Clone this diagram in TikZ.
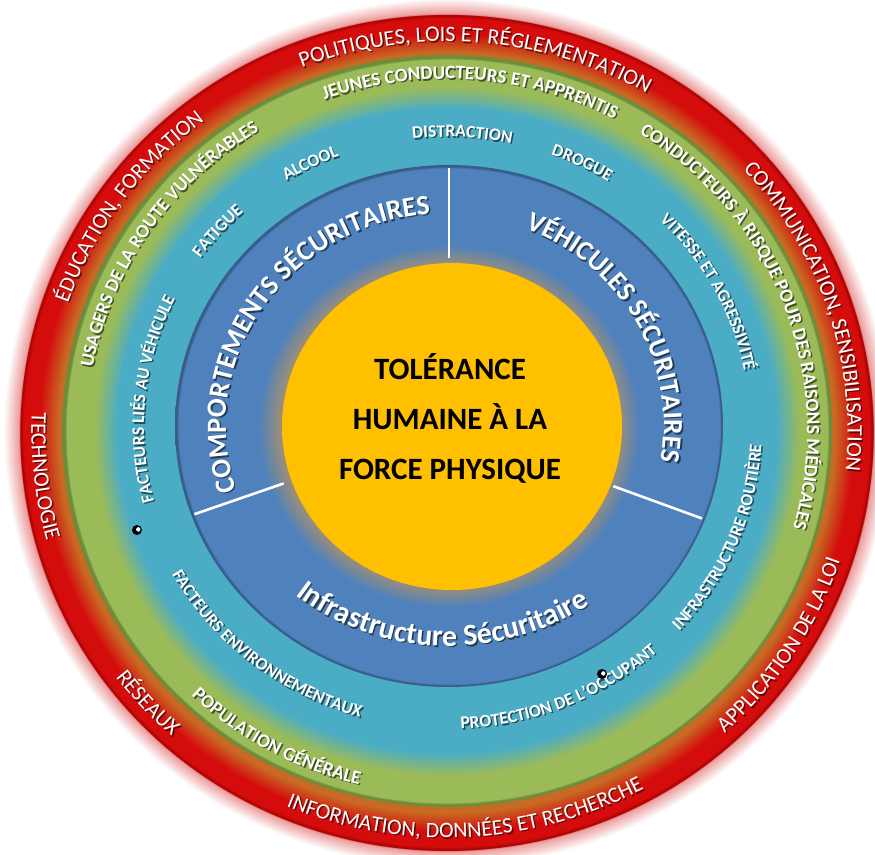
\documentclass[tikz,border=0pt]{standalone}
\usepackage{fontspec}
\setmainfont{Carlito}
\usetikzlibrary{decorations.text}
\definecolor{cRed}{HTML}{D40C0C}
\definecolor{cRedDark}{HTML}{A80000}
\definecolor{cRedIn}{HTML}{C86A24}
\definecolor{cGlow}{HTML}{EC9C9C}
\definecolor{cGreen}{HTML}{9BBB59}
\definecolor{cGreenDark}{HTML}{6E8C3A}
\definecolor{cLBlue}{HTML}{4BACC6}
\definecolor{cDBlue}{HTML}{4F81BD}
\definecolor{cDBlueDark}{HTML}{385D8A}
\definecolor{cGray}{HTML}{9C8E78}
\definecolor{cGold}{HTML}{FFC000}
\pgfdeclareradialshading{redring}{\pgfpoint{0bp}{0bp}}{color(0bp)=(cRedIn); color(21.9bp)=(cRedIn); color(23.0bp)=(cRed); color(23.85bp)=(cRed); color(24.05bp)=(cRedDark); color(24.12bp)=(cGlow); color(25bp)=(white); color(50bp)=(white)}
\pgfdeclareradialshading{greenring}{\pgfpoint{0bp}{0bp}}{color(0bp)=(cLBlue); color(21.4bp)=(cLBlue); color(22.9bp)=(cGreen); color(24.7bp)=(cGreen); color(24.8bp)=(cGreenDark); color(25bp)=(cGreenDark); color(50bp)=(cGreenDark)}
\pgfdeclareradialshading{bluering}{\pgfpoint{0bp}{0bp}}{color(0bp)=(cGray); color(15.4bp)=(cGray); color(17.4bp)=(cDBlue); color(24.7bp)=(cDBlue); color(24.82bp)=(cDBlueDark); color(25bp)=(cDBlueDark); color(50bp)=(cDBlueDark)}
% #1 cx, #2 cy, #3 rx, #4 ry, #5 start, #6 end, #7 font, #8 text
\newcommand\ringtext[8]{%
  \begin{scope}[opacity=.55,shift={(1.5,-1.5)}]
  \path[decorate,decoration={text along path,text align=center,text color=black,text={|#7|#8}}]
    ([shift={(#1,#2)}]#5:#3 and #4) arc[start angle=#5,end angle=#6,x radius=#3,y radius=#4];
  \end{scope}
  \path[decorate,decoration={text along path,text align=center,text color=white,text={|#7|#8}}]
    ([shift={(#1,#2)}]#5:#3 and #4) arc[start angle=#5,end angle=#6,x radius=#3,y radius=#4];
}
\newcommand\redf{\fontsize{22}{22}\selectfont}
\newcommand\grnf{\fontsize{19}{19}\selectfont\bfseries}
\newcommand\lbf{\fontsize{17.5}{17.5}\selectfont\bfseries}
\newcommand\dbf{\fontsize{28}{28}\selectfont\bfseries}
\newcommand\dbfv{\fontsize{27.5}{27.5}\selectfont\bfseries}
\newcommand\dbfb{\fontsize{30}{30}\selectfont\bfseries}
\begin{document}
\begin{tikzpicture}[x=1pt,y=1pt,divider/.style={white,line width=2.6pt}]
\useasboundingbox (0,0) rectangle (875,854);
\clip (0,0) rectangle (875,854);
\fill[white] (0,0) rectangle (875,854);
% rings
\shade[shading=redring] (446.5,421.5) ellipse[x radius=443pt,y radius=434pt];
\shade[shading=greenring] (447,423) ellipse[x radius=385pt,y radius=376pt];
\fill[cLBlue] (447,427) ellipse[x radius=330pt,y radius=320pt];
\shade[shading=bluering] (449,428) ellipse[x radius=274pt,y radius=261pt];
\fill[cGold] (452,427.5) ellipse[x radius=170pt,y radius=163.5pt];
% dividers
\coordinate (dc) at (449,428);
\draw[divider] ([shift={(dc)}]90:176pt and 168pt) -- ([shift={(dc)}]90:271pt and 258pt);
\draw[divider] ([shift={(dc)}]200:176pt and 168pt) -- ([shift={(dc)}]200:271pt and 258pt);
\draw[divider] ([shift={(dc)}]339:176pt and 168pt) -- ([shift={(dc)}]339:271pt and 258pt);
% red ring texts
\ringtext{446.5}{421.5}{401pt}{391pt}{165.5}{5.5}{\redf}{POLITIQUES, LOIS ET RÉGLEMENTATION}
\ringtext{446.5}{421.5}{401pt}{391pt}{98}{-62}{\redf}{COMMUNICATION, SENSIBILISATION}
\ringtext{446.5}{421.5}{401pt}{391pt}{224.5}{64.5}{\redf}{ÉDUCATION, FORMATION}
\ringtext{446.5}{421.5}{415pt}{405pt}{-112.6}{47.4}{\redf}{APPLICATION DE LA LOI}
\ringtext{446.5}{421.5}{415pt}{405pt}{192.9}{352.9}{\redf}{INFORMATION, DONNÉES ET RECHERCHE}
\ringtext{446.5}{421.5}{415pt}{405pt}{142.2}{302.2}{\redf}{RÉSEAUX}
\ringtext{446.5}{421.5}{415pt}{405pt}{106.2}{266.2}{\redf}{TECHNOLOGIE}
% green ring texts
\ringtext{447}{423}{360pt}{352pt}{166}{6}{\grnf}{JEUNES CONDUCTEURS ET APPRENTIS}
\ringtext{447}{423}{360pt}{352pt}{100.6}{-59.4}{\grnf}{CONDUCTEURS À RISQUE POUR DES RAISONS MÉDICALES}
\ringtext{447}{423}{360pt}{352pt}{226}{66}{\grnf}{USAGERS DE LA ROUTE VULNÉRABLES}
\ringtext{447}{423}{372pt}{364pt}{161}{321}{\grnf}{POPULATION GÉNÉRALE}
% light blue ring texts
\ringtext{447}{427}{303pt}{290pt}{167}{7}{\lbf}{DISTRACTION}
\ringtext{447}{427}{303pt}{290pt}{142.9}{-17.1}{\lbf}{DROGUE}
\ringtext{447}{427}{303pt}{290pt}{197.4}{37.4}{\lbf}{ALCOOL}
\ringtext{447}{427}{303pt}{290pt}{219.5}{59.5}{\lbf}{FATIGUE}
\ringtext{447}{427}{303pt}{290pt}{254.5}{94.5}{\lbf}{FACTEURS LIÉS AU VÉHICULE}
\ringtext{447}{427}{303pt}{290pt}{107.4}{-52.6}{\lbf}{VITESSE ET AGRESSIVITÉ}
\ringtext{447}{427}{315pt}{302pt}{-102.2}{57.8}{\lbf}{INFRASTRUCTURE ROUTIÈRE}
\ringtext{447}{427}{315pt}{302pt}{-147}{13}{\lbf}{PROTECTION DE L’OCCUPANT}
\ringtext{447}{427}{315pt}{302pt}{150.6}{310.6}{\lbf}{FACTEURS ENVIRONNEMENTAUX}
% dark blue ring texts
\ringtext{449}{428}{223pt}{213pt}{226.6}{66.6}{\dbf}{COMPORTEMENTS SÉCURITAIRES}
\ringtext{449}{428}{215pt}{211pt}{109.5}{-50.5}{\dbfv}{VÉHICULES SÉCURITAIRES}
\ringtext{449}{428}{240pt}{220pt}{188}{348}{\dbfb}{Infrastructure Sécuritaire}
% centre
\node[font=\fontsize{31}{50}\selectfont\bfseries,align=center,text=black] (centre) at (450,436) {TOLÉRANCE\\HUMAINE À LA\\FORCE PHYSIQUE};
% dots
\fill[black] (137,324) circle[radius=5pt];
\fill[white] (138.3,324.6) circle[radius=2.2pt];
\fill[black] (602,180) circle[radius=5pt];
\fill[white] (603.3,180.6) circle[radius=2.2pt];
\end{tikzpicture}
\end{document}
